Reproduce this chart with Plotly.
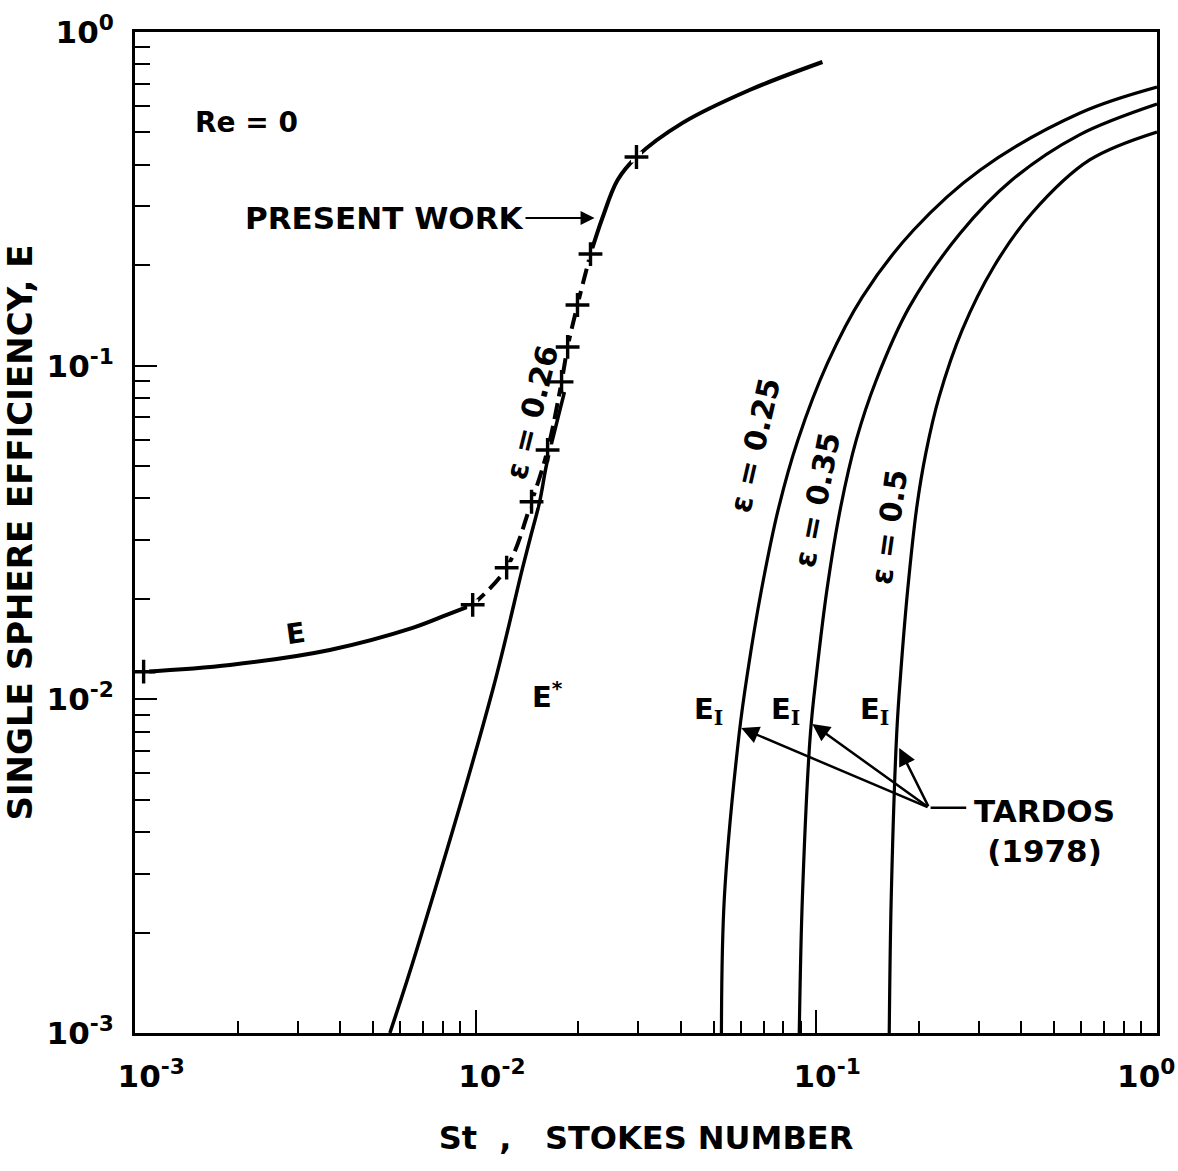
import math
import plotly.graph_objects as go

lg = math.log10

# ---- Present work: single sphere efficiency E (Re = 0, porosity 0.26) ----
st_e = [0.00106, 0.0019, 0.00373, 0.00653, 0.00822, 0.0098, 0.01233, 0.01459, 0.01626,
        0.01787, 0.01862, 0.0199, 0.02173, 0.02355, 0.0261, 0.02965, 0.0405, 0.0637, 0.1042]
eff_e = [0.0121, 0.01268, 0.01406, 0.01637, 0.0179, 0.0192, 0.0248, 0.0391, 0.0559,
         0.0894, 0.1138, 0.152, 0.216, 0.277, 0.36, 0.422, 0.534, 0.670, 0.813]

# computed points marked with "+"
st_pts = [0.00106, 0.0098, 0.01233, 0.01459, 0.01626, 0.01787, 0.01862, 0.0199, 0.02173, 0.02965]
eff_pts = [0.0121, 0.0192, 0.0248, 0.0391, 0.0559, 0.0894, 0.1138, 0.152, 0.216, 0.422]

# ---- E* curve ----
st_estar = [0.0056, 0.00671, 0.01122, 0.01375, 0.01459, 0.01541, 0.01614, 0.01738, 0.01822]
eff_estar = [0.001, 0.001774, 0.01067, 0.0249, 0.0315, 0.0391, 0.0504, 0.0688, 0.0834]

# ---- Tardos (1978) inertial impaction E_I ----
st_t25 = [0.05265, 0.0537, 0.0594, 0.0628, 0.0690, 0.0776, 0.0883, 0.1079, 0.1364, 0.1930, 0.3028, 0.5945, 1.0]
eff_t25 = [0.001, 0.00254, 0.00793, 0.0120, 0.02127, 0.0377, 0.0599, 0.1019, 0.1606, 0.255, 0.386, 0.572, 0.684]

st_t35 = [0.0891, 0.0910, 0.0961, 0.1002, 0.1074, 0.1179, 0.1310, 0.1500, 0.1876, 0.2648, 0.3750, 0.5902, 1.0]
eff_t35 = [0.001, 0.00254, 0.00793, 0.0120, 0.02127, 0.0377, 0.0599, 0.0906, 0.150, 0.2497, 0.360, 0.491, 0.608]

st_t50 = [0.1637, 0.1659, 0.1722, 0.1769, 0.1854, 0.1972, 0.2096, 0.2293, 0.2681, 0.3315, 0.4298, 0.6342, 1.0]
eff_t50 = [0.001, 0.00254, 0.00793, 0.0120, 0.02127, 0.0377, 0.0547, 0.0806, 0.128, 0.1976, 0.2868, 0.4135, 0.5016]

# ---- axis ticks ----
major_vals = [0.001, 0.01, 0.1, 1.0]
y_tick_text = ["10<sup>-3</sup>", "10<sup>-2</sup>", "10<sup>-1</sup>", "10<sup>0</sup>"]
# padded so the "10" sits over its tick
x_tick_text = ["   10<sup>-3</sup>", "   10<sup>-2</sup>", "  10<sup>-1</sup>", "10<sup>0</sup>  "]
minor_vals = [m * d for d in (0.001, 0.01, 0.1) for m in range(2, 10)]

# ---- label anchors (St, E) ----
tardos_tail = (0.2143, 0.00473)
tardos_line_end = (0.2754, 0.00473)
tardos_tips = [(0.0602, 0.0082), (0.0973, 0.00844), (0.1751, 0.00715)]
present_tip = (0.02234, 0.2772)
present_text = (0.0054, 0.2772)

FONT = "DejaVu Sans"
BLACK = "black"

fig = go.Figure()

line_kw = dict(shape="spline", smoothing=1.0)

# E: solid low-St part
fig.add_trace(go.Scatter(x=st_e[0:6], y=eff_e[0:6], mode="lines",
                         line=dict(color=BLACK, width=4, **line_kw), hoverinfo="skip"))
# E: dashed middle part
fig.add_trace(go.Scatter(x=st_e[5:13], y=eff_e[5:13], mode="lines",
                         line=dict(color=BLACK, width=4, dash="16px,7px", **line_kw), hoverinfo="skip"))
# E: solid upper part
fig.add_trace(go.Scatter(x=st_e[12:], y=eff_e[12:], mode="lines",
                         line=dict(color=BLACK, width=4, **line_kw), hoverinfo="skip"))

# E*
fig.add_trace(go.Scatter(x=st_estar, y=eff_estar, mode="lines",
                         line=dict(color=BLACK, width=3.5, **line_kw), hoverinfo="skip"))

# Tardos curves
for xs, ys in ((st_t25, eff_t25), (st_t35, eff_t35), (st_t50, eff_t50)):
    fig.add_trace(go.Scatter(x=xs, y=ys, mode="lines",
                             line=dict(color=BLACK, width=3.2, **line_kw), hoverinfo="skip"))

# gaps around the computed points, then the "+" symbols
fig.add_trace(go.Scatter(x=st_pts, y=eff_pts, mode="markers",
                         marker=dict(symbol="square", size=11, color="white"), hoverinfo="skip"))
fig.add_trace(go.Scatter(x=st_pts, y=eff_pts, mode="markers",
                         marker=dict(symbol="cross-thin", size=17,
                                     line=dict(color=BLACK, width=3.4)), hoverinfo="skip"))

ann = []


def text(x, y, s, size=26, angle=0, **kw):
    d = dict(x=lg(x), y=lg(y), xref="x", yref="y", text=s, showarrow=False,
             textangle=angle, font=dict(family=FONT, size=size, color=BLACK, weight="bold"))
    d.update(kw)
    ann.append(d)


text(0.00213, 0.537, "Re = 0", size=28)
text(0.01459, 0.0726, "\u03b5 = 0.26", size=30, angle=-76)
text(0.00296, 0.0158, "E", size=28, angle=-8)
text(0.01626, 0.0103, "E<sup>*</sup>", size=29)
text(0.0658, 0.0578, "\u03b5 = 0.25", size=30, angle=-77)
text(0.1007, 0.0396, "\u03b5 = 0.35", size=30, angle=-79)
text(0.1637, 0.0329, "\u03b5 = 0.5", size=30, angle=-82)
for sx in (0.0482, 0.0811, 0.1479):
    text(sx, 0.00923, "E<sub><span style='font-family:DejaVu Serif'>I</span></sub>", size=29)
text(0.2868, 0.00403, "TARDOS<br>(1978)", size=31, xanchor="left", align="center")

# PRESENT WORK with its arrow
ann.append(dict(x=lg(present_tip[0]), y=lg(present_tip[1]), xref="x", yref="y",
                ax=lg(present_text[0]), ay=lg(present_text[1]), axref="x", ayref="y",
                text="PRESENT WORK", showarrow=True, arrowhead=2, arrowsize=1.4,
                arrowwidth=2, arrowcolor=BLACK, standoff=0,
                font=dict(family=FONT, size=31, color=BLACK, weight="bold")))

# Tardos leader line and arrows
ann.append(dict(x=lg(tardos_line_end[0]), y=lg(tardos_line_end[1]), xref="x", yref="y",
                ax=lg(tardos_tail[0]), ay=lg(tardos_tail[1]), axref="x", ayref="y",
                text="", showarrow=True, arrowhead=0, arrowwidth=2.5, arrowcolor=BLACK))
for tx, ty in tardos_tips:
    ann.append(dict(x=lg(tx), y=lg(ty), xref="x", yref="y",
                    ax=lg(tardos_tail[0]), ay=lg(tardos_tail[1]), axref="x", ayref="y",
                    text="", showarrow=True, arrowhead=2, arrowsize=1.4,
                    arrowwidth=2.5, arrowcolor=BLACK))

axis_common = dict(
    type="log", range=[-3, 0], showline=True, linewidth=3, linecolor=BLACK, mirror=True,
    showgrid=False, zeroline=False, ticks="inside", tickwidth=2, tickcolor=BLACK,
    tickmode="array", tickvals=major_vals, ticklabeloverflow="allow",
    tickfont=dict(family=FONT, size=31, color=BLACK, weight="bold"),
)

fig.update_layout(
    width=1178, height=1171,
    margin=dict(l=135, r=21, t=32, b=138, autoexpand=False),
    paper_bgcolor="white", plot_bgcolor="white",
    showlegend=False,
    annotations=ann,
    xaxis=dict(
        **axis_common, ticktext=x_tick_text, ticklen=23, ticklabelstandoff=14,
        minor=dict(ticks="inside", ticklen=12, tickwidth=2, tickcolor=BLACK,
                   tickmode="array", tickvals=minor_vals, showgrid=False),
        title=dict(text="St  ,   STOKES NUMBER", standoff=34,
                   font=dict(family=FONT, size=32, color=BLACK, weight="bold")),
    ),
    yaxis=dict(
        **axis_common, ticktext=y_tick_text, ticklen=22, ticklabelstandoff=12,
        minor=dict(ticks="inside", ticklen=15, tickwidth=2, tickcolor=BLACK,
                   tickmode="array", tickvals=minor_vals, showgrid=False),
        title=dict(text="SINGLE SPHERE EFFICIENCY, E", standoff=10,
                   font=dict(family=FONT, size=34, color=BLACK, weight="bold")),
    ),
)

fig.write_html("out.html")
